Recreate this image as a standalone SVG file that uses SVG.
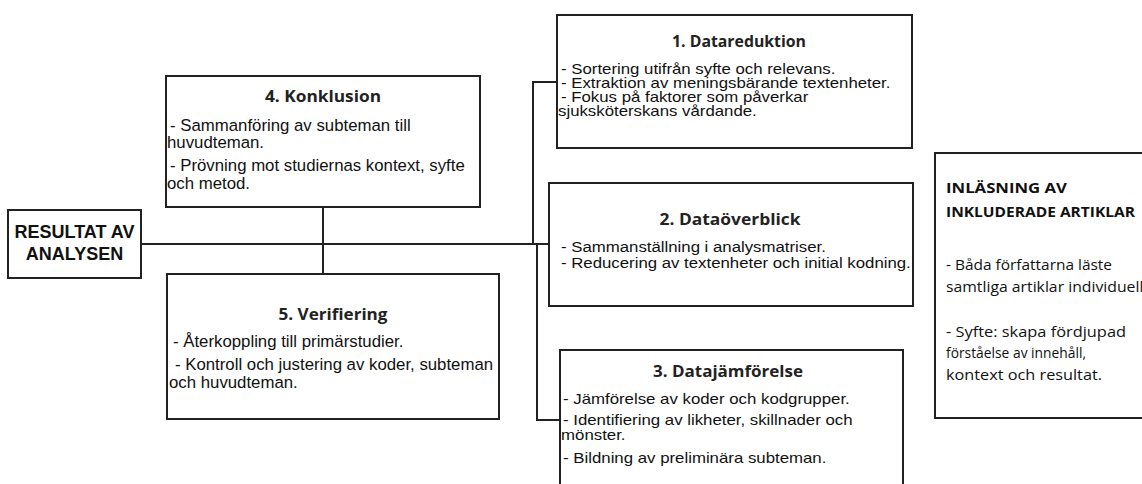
<svg xmlns="http://www.w3.org/2000/svg" width="1142" height="484" viewBox="0 0 1142 484">
<style>
.box{fill:#fff;stroke:#222;stroke-width:2}
.con{fill:none;stroke:#222;stroke-width:2}
.t{font-family:"Open Sans","Noto Sans",sans-serif;font-weight:700;font-size:15.5px;fill:#222;text-anchor:middle}
.b{font-family:"Liberation Sans",Arial,sans-serif;font-size:16.8px;fill:#111}
.b15{font-family:"Liberation Sans",Arial,sans-serif;font-size:15px;fill:#111}
.b145{font-family:"Liberation Sans",Arial,sans-serif;font-size:14.5px;fill:#111}
.s{font-family:"Liberation Sans",Arial,sans-serif;font-size:14px;fill:#111}
.r{font-family:"Liberation Sans",Arial,sans-serif;font-weight:700;font-size:18px;fill:#111;text-anchor:middle}
.ht{font-family:"Open Sans","Noto Sans",sans-serif;font-weight:700;font-size:14.5px;fill:#111}
.hb{font-family:"Open Sans","Noto Sans",sans-serif;font-size:14.5px;fill:#111}
</style>
<rect width="1142" height="484" fill="#fff"/>
<g id="connectors">
<line class="con" x1="141" y1="244" x2="549" y2="244"/>
<line class="con" x1="323" y1="207" x2="323" y2="274"/>
<polyline class="con" points="533,244 533,82 557,82"/>
<polyline class="con" points="537,244 537,420 560,420"/>
</g>
<g id="resultat">
<rect class="box" x="8" y="210" width="133" height="68"/>
<text class="r" x="74.5" y="238">RESULTAT AV</text>
<text class="r" x="74.5" y="260">ANALYSEN</text>
</g>
<g id="konklusion">
<rect class="box" x="166" y="76" width="314" height="131"/>
<text class="t" x="323" y="102" textLength="116" lengthAdjust="spacingAndGlyphs">4. Konklusion</text>
<text class="b" x="170" y="131">- Sammanföring av subteman till</text>
<text class="b" x="167" y="148">huvudteman.</text>
<text class="b" x="170" y="171">- Prövning mot studiernas kontext, syfte</text>
<text class="b" x="167" y="189">och metod.</text>
</g>
<g id="verifiering">
<rect class="box" x="167" y="274" width="332" height="145"/>
<text class="t" x="333" y="320" textLength="109" lengthAdjust="spacingAndGlyphs">5. Verifiering</text>
<text class="b" x="173" y="347">- Återkoppling till primärstudier.</text>
<text class="b" x="175" y="370">- Kontroll och justering av koder, subteman</text>
<text class="b" x="169" y="388">och huvudteman.</text>
</g>
<g id="datareduktion">
<rect class="box" x="557" y="15" width="355" height="133"/>
<text class="t" x="739" y="47" textLength="134" lengthAdjust="spacingAndGlyphs">1. Datareduktion</text>
<g transform="translate(561,0) scale(1.2,1)">
<text class="s" x="0" y="74">- Sortering utifrån syfte och relevans.</text>
<text class="s" x="0" y="88">- Extraktion av meningsbärande textenheter.</text>
<text class="s" x="0" y="102">- Fokus på faktorer som påverkar</text>
<text class="s" x="-2.5" y="116">sjuksköterskans vårdande.</text>
</g>
</g>
<g id="dataoverblick">
<rect class="box" x="549" y="183" width="364" height="123"/>
<text class="t" x="730" y="225" textLength="141" lengthAdjust="spacingAndGlyphs">2. Dataöverblick</text>
<g transform="translate(561,0) scale(1.12,1)">
<text class="b15" x="0" y="252">- Sammanställning i analysmatriser.</text>
<text class="b15" x="0" y="268">- Reducering av textenheter och initial kodning.</text>
</g>
</g>
<g id="datajamforelse">
<rect class="box" x="560" y="350" width="343" height="145"/>
<text class="t" x="728" y="377" textLength="150" lengthAdjust="spacingAndGlyphs">3. Datajämförelse</text>
<g transform="translate(563,0) scale(1.16,1)">
<text class="b145" x="0" y="404">- Jämförelse av koder och kodgrupper.</text>
<text class="b145" x="0" y="425">- Identifiering av likheter, skillnader och</text>
<text class="b145" x="-1.7" y="440.5">mönster.</text>
<text class="b145" x="0" y="463">- Bildning av preliminära subteman.</text>
</g>
</g>
<g id="inlasning">
<rect class="box" x="935" y="153" width="220" height="265"/>
<text class="ht" x="946" y="193" textLength="121" lengthAdjust="spacingAndGlyphs">INLÄSNING AV</text>
<text class="ht" x="946" y="217" textLength="189" lengthAdjust="spacingAndGlyphs">INKLUDERADE ARTIKLAR</text>
<text class="hb" x="946" y="270" textLength="166" lengthAdjust="spacingAndGlyphs">- Båda författarna läste</text>
<text class="hb" x="946" y="292" textLength="203" lengthAdjust="spacingAndGlyphs">samtliga artiklar individuellt</text>
<text class="hb" x="946" y="337" textLength="180" lengthAdjust="spacingAndGlyphs">-  Syfte: skapa fördjupad</text>
<text class="hb" x="946" y="358" textLength="140" lengthAdjust="spacingAndGlyphs">förståelse av innehåll,</text>
<text class="hb" x="946" y="380" textLength="156" lengthAdjust="spacingAndGlyphs">kontext och resultat.</text>
</g>
</svg>
